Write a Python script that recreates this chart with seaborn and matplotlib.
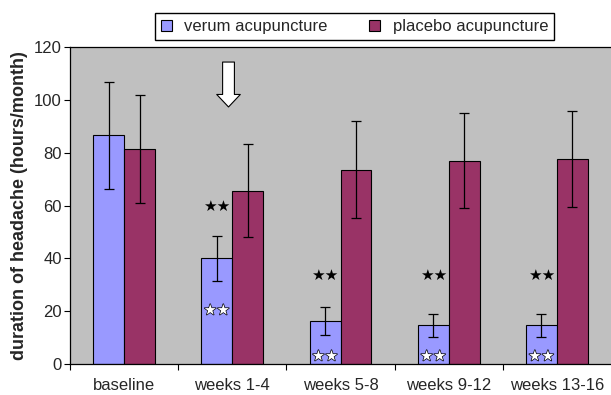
import pandas as pd
import numpy as np
import matplotlib
matplotlib.use('Agg')
import matplotlib.pyplot as plt
import matplotlib.patheffects as pe
from matplotlib.patches import Patch
from matplotlib.ticker import FixedLocator
import seaborn as sns

# data
categories = ['baseline', 'weeks 1-4', 'weeks 5-8', 'weeks 9-12', 'weeks 13-16']
verum = [86.5, 40.0, 16.2, 14.6, 14.6]
verum_err = [20.4, 8.6, 5.3, 4.5, 4.3]
placebo = [81.4, 65.6, 73.6, 77.0, 77.6]
placebo_err = [20.3, 17.7, 18.3, 18.0, 18.2]
groups = ['verum acupuncture', 'placebo acupuncture']
black_star_y = [None, 59.8, 33.4, 33.4, 33.4]
white_star_y = [None, 20.4, 3.0, 3.0, 3.0]

sns.set_style('white')
plt.rcParams['font.family'] = ['Liberation Sans', 'DejaVu Sans']

df = pd.DataFrame({
    'period': categories * 2,
    'group': [groups[0]] * 5 + [groups[1]] * 5,
    'hours': verum + placebo,
})
colors = {groups[0]: '#9999FF', groups[1]: '#993366'}

fig = plt.figure(figsize=(6.11, 3.95), dpi=100)
ax = fig.add_axes([70 / 611, 31 / 395, 541 / 611, 317 / 395])
ax.set_facecolor('#C0C0C0')

sns.barplot(data=df, x='period', y='hours', hue='group', order=categories,
            hue_order=groups, palette=colors, width=0.572, errorbar=None,
            edgecolor='black', linewidth=0.8, saturation=1, ax=ax, legend=False)

# error bars
for cont, errs in zip(ax.containers, [verum_err, placebo_err]):
    xs = [b.get_x() + b.get_width() / 2 for b in cont]
    hs = [b.get_height() for b in cont]
    ax.errorbar(xs, hs, yerr=errs, fmt='none', ecolor='black',
                elinewidth=0.9, capsize=3.6, capthick=0.9, zorder=5)

# significance stars
vx = [b.get_x() + b.get_width() / 2 for b in ax.containers[0]]
for i in range(1, 5):
    ax.text(vx[i], black_star_y[i], '★★', ha='center', va='center',
            fontsize=11, color='black', family='DejaVu Sans', zorder=6)
    ax.text(vx[i], white_star_y[i], '★★', ha='center', va='center',
            fontsize=10.5, color='white', family='DejaVu Sans', zorder=6,
            path_effects=[pe.withStroke(linewidth=1.0, foreground='black')])

# arrow marking the treatment period
ax.annotate('', xy=(0.965, 97.3), xytext=(0.965, 114.3),
            arrowprops=dict(arrowstyle='simple,head_length=0.9,head_width=1.7,tail_width=0.85',
                            fc='white', ec='black', lw=0.8, mutation_scale=10,
                            shrinkA=0, shrinkB=0), zorder=7)

ax.set_ylim(0, 120)
ax.set_xlim(-0.5, 4.5)
ax.set_yticks([0, 20, 40, 60, 80, 100, 120])
ax.tick_params(axis='y', labelsize=12, length=4, width=0.8, color='black', left=True, pad=2)
ax.tick_params(axis='x', which='major', labelsize=12, length=0, pad=10)
ax.xaxis.set_minor_locator(FixedLocator([-0.5, 0.5, 1.5, 2.5, 3.5]))
ax.tick_params(axis='x', which='minor', length=4, width=0.8, color='black', bottom=True)
ax.set_xlabel('')
ax.set_ylabel('duration of headache (hours/month)', fontsize=13, fontweight='bold', labelpad=4)

for s in ['top', 'left', 'bottom']:
    ax.spines[s].set_visible(True)
    ax.spines[s].set_color('black')
    ax.spines[s].set_linewidth(0.9)
ax.spines['right'].set_visible(False)

handles = [Patch(facecolor=colors[g], edgecolor='black', linewidth=0.8) for g in groups]
fig.legend(handles, groups, loc='center', bbox_to_anchor=(354.5 / 611, 1 - 26.5 / 395),
           ncol=2, fontsize=12, frameon=True, fancybox=False, framealpha=1,
           edgecolor='black', handlelength=0.65, handleheight=0.65, handletextpad=0.75,
           columnspacing=2.5, borderpad=0.35, borderaxespad=0)

fig.savefig('out.png', dpi=100, facecolor='white')
